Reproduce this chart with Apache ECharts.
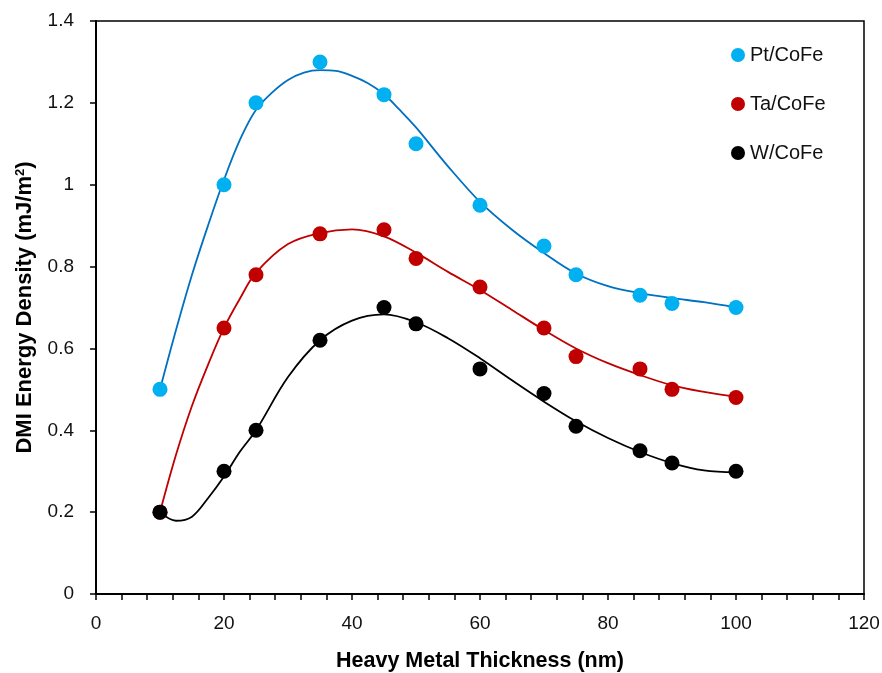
<!DOCTYPE html>
<html>
<head>
<meta charset="utf-8">
<script src="https://cdn.jsdelivr.net/npm/echarts@6/dist/echarts.min.js"></script>
<style>
  html, body { margin: 0; padding: 0; background: #fff; }
  #main { width: 882px; height: 673px; }
</style>
</head>
<body>
<div id="main"></div>
<script>
// measured thickness (nm)
var thickness = [10, 20, 25, 35, 45, 50, 60, 70, 75, 85, 90, 100];
var ptData = [0.5, 1.0, 1.2, 1.3, 1.22, 1.1, 0.95, 0.85, 0.78, 0.73, 0.71, 0.70];
var taData = [0.2, 0.65, 0.78, 0.88, 0.89, 0.82, 0.75, 0.65, 0.58, 0.55, 0.50, 0.48];
var wData = [0.2, 0.3, 0.4, 0.62, 0.70, 0.66, 0.55, 0.49, 0.41, 0.35, 0.32, 0.30];

// fitted trend lines
var ptFitX = [10, 12.5, 15, 17.5, 20, 22.5, 25, 27.5, 30, 32.5, 35, 37.5, 40, 42.5, 45, 47.5, 50, 55, 60, 65, 70, 75, 80, 85, 90, 95, 100];
var ptFit = [0.5, 0.645, 0.78, 0.90, 1.012, 1.11, 1.183, 1.225, 1.256, 1.274, 1.280, 1.278, 1.266, 1.248, 1.221, 1.182, 1.14, 1.045, 0.958, 0.89, 0.833, 0.783, 0.752, 0.735, 0.723, 0.713, 0.70];
var fitX = [10, 12.5, 15, 17.5, 20, 22.5, 25, 30, 35, 40, 45, 50, 55, 60, 65, 70, 75, 80, 85, 90, 95, 100];
var taFit = [0.2, 0.34, 0.46, 0.56, 0.65, 0.722, 0.785, 0.855, 0.882, 0.891, 0.874, 0.834, 0.787, 0.743, 0.694, 0.645, 0.600, 0.564, 0.535, 0.51, 0.494, 0.482];
var wFit = [0.2, 0.179, 0.189, 0.234, 0.287, 0.348, 0.40, 0.53, 0.62, 0.668, 0.683, 0.664, 0.625, 0.576, 0.522, 0.47, 0.422, 0.381, 0.347, 0.32, 0.302, 0.297];

var xTicks = { min: 0, max: 120, interval: 20 };
var yTicks = { min: 0, max: 1.4, interval: 0.2 };

function pairs(xs, ys) {
  return xs.map(function (x, i) { return [x, ys[i]]; });
}

var FONT = '"Liberation Sans", Arial, sans-serif';

var chart = echarts.init(document.getElementById('main'));

var option = {
  backgroundColor: '#fff',
  animation: false,
  textStyle: { fontFamily: FONT },
  grid: {
    left: 96, right: 18, top: 21, bottom: 79,
    outerBoundsMode: 'none',
    show: true, borderColor: '#000', borderWidth: 1.5
  },
  legend: {
    orient: 'vertical',
    left: 726, top: 40,
    itemGap: 29,
    itemWidth: 14, itemHeight: 14,
    textStyle: { fontSize: 20, color: '#111', fontFamily: FONT },
    data: [
      { name: 'Pt/CoFe', icon: 'circle' },
      { name: 'Ta/CoFe', icon: 'circle' },
      { name: 'W/CoFe', icon: 'circle' }
    ]
  },
  xAxis: {
    type: 'value',
    min: xTicks.min, max: xTicks.max, interval: xTicks.interval,
    name: 'Heavy Metal Thickness (nm)',
    nameLocation: 'middle',
    nameGap: 56,
    nameTextStyle: { fontSize: 21.5, fontWeight: 'bold', color: '#000', fontFamily: FONT },
    axisLine: { onZero: false, lineStyle: { color: '#000', width: 2 } },
    axisTick: { show: true, inside: false, length: 6, lineStyle: { color: '#000', width: 1.5 } },
    minorTick: { show: true, splitNumber: 5, length: 6, lineStyle: { color: '#000', width: 1.5 } },
    axisLabel: { fontSize: 19, color: '#111', margin: 20, fontFamily: FONT },
    splitLine: { show: false }
  },
  yAxis: {
    type: 'value',
    min: yTicks.min, max: yTicks.max, interval: yTicks.interval,
    name: '{a|DMI Energy Density (mJ/m}{s|2}{a|)}',
    nameLocation: 'middle',
    nameGap: 59,
    nameTextStyle: {
      rich: {
        a: { fontSize: 22, fontWeight: 'bold', color: '#000', fontFamily: FONT },
        s: { fontSize: 13, fontWeight: 'bold', color: '#000', fontFamily: FONT, verticalAlign: 'top', lineHeight: 14, padding: [0, 0, 10, 0] }
      }
    },
    axisLine: { show: true, onZero: false, lineStyle: { color: '#000', width: 2 } },
    axisTick: { show: true, inside: false, length: 6, lineStyle: { color: '#000', width: 1.5 } },
    axisLabel: { fontSize: 19, color: '#111', margin: 22, fontFamily: FONT },
    splitLine: { show: false }
  },
  series: [
    {
      name: 'Pt/CoFe fit', type: 'line', smooth: 0.35, showSymbol: false, silent: true,
      data: pairs(ptFitX, ptFit), lineStyle: { color: '#0070C0', width: 1.8 }, z: 2
    },
    {
      name: 'Ta/CoFe fit', type: 'line', smooth: 0.35, showSymbol: false, silent: true,
      data: pairs(fitX, taFit), lineStyle: { color: '#C00000', width: 1.8 }, z: 2
    },
    {
      name: 'W/CoFe fit', type: 'line', smooth: 0.35, showSymbol: false, silent: true,
      data: pairs(fitX, wFit), lineStyle: { color: '#000', width: 1.8 }, z: 2
    },
    {
      name: 'Pt/CoFe', type: 'scatter', symbol: 'circle', symbolSize: 15,
      data: pairs(thickness, ptData), itemStyle: { color: '#00B0F0', opacity: 1 }, z: 3
    },
    {
      name: 'Ta/CoFe', type: 'scatter', symbol: 'circle', symbolSize: 15,
      data: pairs(thickness, taData), itemStyle: { color: '#C00000', opacity: 1 }, z: 3
    },
    {
      name: 'W/CoFe', type: 'scatter', symbol: 'circle', symbolSize: 15,
      data: pairs(thickness, wData), itemStyle: { color: '#000', opacity: 1 }, z: 3
    }
  ]
};

chart.setOption(option);
</script>
</body>
</html>
